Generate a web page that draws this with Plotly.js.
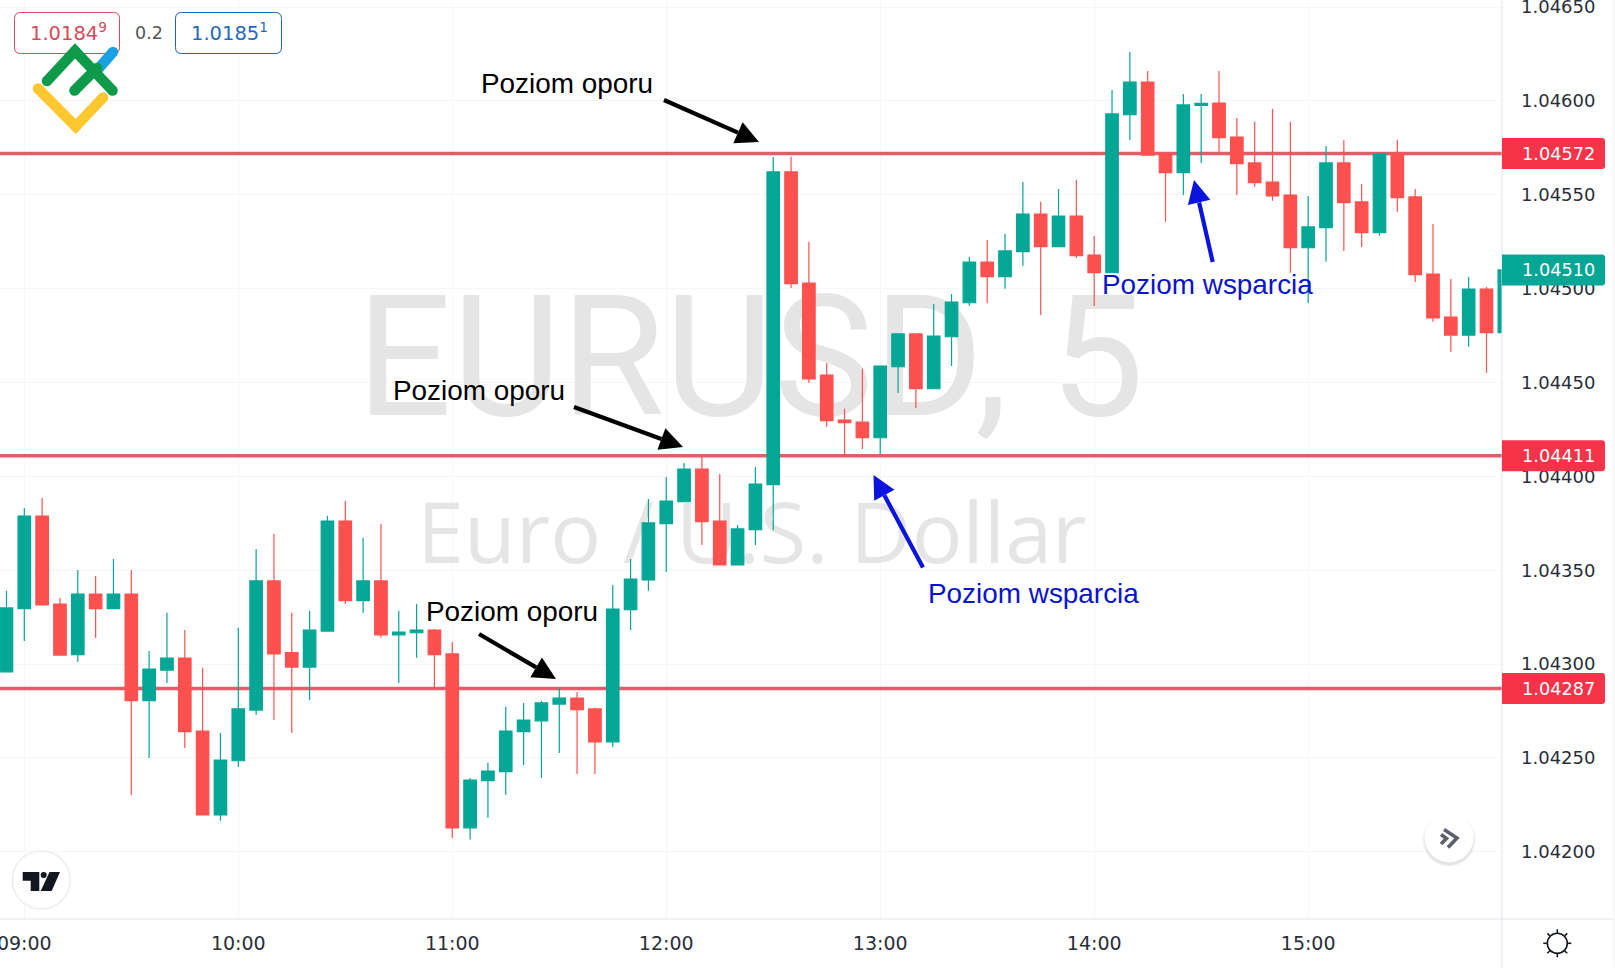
<!DOCTYPE html>
<html><head><meta charset="utf-8">
<script src="https://cdn.plot.ly/plotly-3.0.1.min.js"></script>
<style>html,body{margin:0;padding:0;background:#fff;overflow:hidden}#c{width:1615px;height:971px}</style>
</head><body><div id="c"></div>
<script>
const open = [1.042959,1.043295,1.043789,1.043320,1.043050,1.043373,1.043295,1.043373,1.042805,1.042968,1.043032,1.042643,1.042196,1.042485,1.042755,1.043443,1.043061,1.042984,1.043176,1.043762,1.043338,1.043443,1.043156,1.043167,1.043181,1.043054,1.042128,1.042379,1.042427,1.042640,1.042698,1.042787,1.042819,1.042761,1.042586,1.043290,1.043448,1.043748,1.043865,1.044039,1.043762,1.043528,1.043716,1.043956,1.045622,1.045030,1.044540,1.044300,1.044289,1.044206,1.044584,1.044759,1.044467,1.044744,1.044925,1.045142,1.045064,1.045197,1.045398,1.045224,1.045387,1.045179,1.045085,1.045927,1.046101,1.045718,1.045618,1.045977,1.045989,1.045808,1.045670,1.045568,1.045499,1.045218,1.045325,1.045670,1.045462,1.045298,1.045718,1.045489,1.045078,1.044849,1.044753,1.044998,1.044766];
const high = [1.043391,1.043832,1.043885,1.043352,1.043501,1.043469,1.043560,1.043501,1.043070,1.043274,1.043181,1.042981,1.042633,1.043194,1.043613,1.043693,1.043274,1.043284,1.043790,1.043869,1.043673,1.043746,1.043284,1.043320,1.043187,1.043118,1.042393,1.042474,1.042773,1.042793,1.042805,1.042872,1.042851,1.042768,1.043421,1.043560,1.043879,1.043997,1.044071,1.044105,1.044013,1.043741,1.044050,1.045702,1.045703,1.045250,1.044604,1.044361,1.044574,1.044588,1.044759,1.044759,1.044918,1.044972,1.045169,1.045259,1.045291,1.045568,1.045463,1.045531,1.045579,1.045281,1.046059,1.046261,1.046160,1.045718,1.046037,1.046037,1.046160,1.045909,1.045890,1.045957,1.045890,1.045494,1.045760,1.045792,1.045558,1.045718,1.045792,1.045531,1.045345,1.045052,1.045062,1.045009,1.045100];
const low = [1.042959,1.043123,1.043315,1.043048,1.043011,1.043139,1.043295,1.042302,1.042500,1.042899,1.042553,1.042196,1.042165,1.042452,1.042729,1.042702,1.042633,1.042809,1.043176,1.043320,1.043272,1.043140,1.042899,1.043034,1.042872,1.042073,1.042065,1.042181,1.042302,1.042462,1.042395,1.042526,1.042414,1.042414,1.042558,1.043181,1.043391,1.043490,1.043865,1.043634,1.043528,1.043528,1.043634,1.043714,1.045004,1.044498,1.044265,1.044119,1.044146,1.044119,1.044444,1.044364,1.044467,1.044588,1.044909,1.044924,1.045000,1.045122,1.044860,1.045224,1.045164,1.044908,1.045085,1.045792,1.045712,1.045357,1.045499,1.045670,1.045730,1.045499,1.045543,1.045469,1.045085,1.044924,1.045144,1.045201,1.045222,1.045282,1.045410,1.045036,1.044824,1.044664,1.044691,1.044552,1.044766];
const close = [1.043299,1.043789,1.043315,1.043048,1.043373,1.043295,1.043373,1.042805,1.042974,1.043032,1.042640,1.042196,1.042489,1.042761,1.043443,1.043054,1.042984,1.043181,1.043762,1.043338,1.043443,1.043155,1.043171,1.043181,1.043050,1.042128,1.042382,1.042430,1.042643,1.042702,1.042793,1.042819,1.042757,1.042586,1.043293,1.043453,1.043752,1.043869,1.044039,1.043759,1.043528,1.043720,1.043959,1.045622,1.045027,1.044519,1.044297,1.044286,1.044206,1.044588,1.044759,1.044467,1.044748,1.044929,1.045142,1.045064,1.045201,1.045398,1.045224,1.045387,1.045176,1.045085,1.045931,1.046101,1.045712,1.045618,1.045979,1.045988,1.045804,1.045666,1.045565,1.045495,1.045218,1.045329,1.045670,1.045458,1.045298,1.045718,1.045485,1.045075,1.044845,1.044753,1.044998,1.044766,1.045100];
const levels = [1.04572, 1.04411, 1.04287];
const lastPrice = 1.04510;
const sellPrice = "1.0184", sellPip = "9", spread = "0.2", buyPrice = "1.0185", buyPip = "1";
const watermarkMain = "EURUSD, 5", watermarkSub = "Euro / U.S. Dollar";
const resistanceText = "Poziom oporu", supportText = "Poziom wsparcia";

const DAY = "2023-01-10 ";
const pad = n => String(n).padStart(2, "0");
const times = open.map((_, i) => { const m = 8 * 60 + 55 + i * 5; return DAY + pad(Math.floor(m / 60)) + ":" + pad(m % 60); });
const xRange = [DAY + "08:53:11", DAY + "15:54:21"];
const yRange = [1.041642, 1.046538];

const W = 1615, H = 971, PW = 1502, PH = 919;
const px = x => x / PW, py = y => 1 - y / PH;
const priceY = p => (yRange[1] - p) / (yRange[1] - yRange[0]) * PH;
const GREEN = "#04a696", RED = "#fd514f", LABEL_RED = "#f7334a", LINE_RED = "#e35c6a";
const shapes = [], annotations = [];

function poly(points, o) {
  const path = points.map((p, i) => (i ? "L" : "M") + px(p[0]) + "," + py(p[1])).join(" ") + (o.close ? " Z" : "");
  shapes.push({ type: "path", xref: "paper", yref: "paper", path, layer: "above",
    fillcolor: o.fill || "rgba(0,0,0,0)", line: { color: o.stroke || "rgba(0,0,0,0)", width: o.width || 0 } });
}
function circle(cx, cy, r, o) {
  shapes.push({ type: "circle", xref: "paper", yref: "paper", layer: "above",
    x0: px(cx - r), x1: px(cx + r), y0: py(cy + r), y1: py(cy - r),
    fillcolor: o.fill || "rgba(0,0,0,0)", opacity: o.opacity === undefined ? 1 : o.opacity,
    line: { color: o.stroke || "rgba(0,0,0,0)", width: o.width || 0 } });
}
function capsule(points, width, color) {
  poly(points, { stroke: color, width });
  points.forEach((p, i) => { circle(p[0], p[1], width / 2, { fill: color }); });
}
function rounded(x0, y0, x1, y1, rl, rr, o) {
  const X = px, Y = py;
  const path = `M${X(x0 + rl)},${Y(y0)} L${X(x1 - rr)},${Y(y0)} Q${X(x1)},${Y(y0)} ${X(x1)},${Y(y0 + rr)} L${X(x1)},${Y(y1 - rr)} Q${X(x1)},${Y(y1)} ${X(x1 - rr)},${Y(y1)} L${X(x0 + rl)},${Y(y1)} Q${X(x0)},${Y(y1)} ${X(x0)},${Y(y1 - rl)} L${X(x0)},${Y(y0 + rl)} Q${X(x0)},${Y(y0)} ${X(x0 + rl)},${Y(y0)} Z`;
  shapes.push({ type: "path", xref: "paper", yref: "paper", path, layer: "above", fillcolor: o.fill, line: { color: o.stroke || "rgba(0,0,0,0)", width: o.width || 0 } });
}
function label(text, x, y, size, color, o) {
  o = o || {};
  annotations.push({ text, xref: "paper", yref: "paper", x: px(x), y: py(y), xanchor: o.anchor || "left", yanchor: "middle",
    showarrow: false, font: { family: o.family || "DejaVu Sans", size, color }, borderpad: 0 });
}
function arrow(tail, tip, color) {
  const dx = tip[0] - tail[0], dy = tip[1] - tail[1], len = Math.hypot(dx, dy), ux = dx / len, uy = dy / len;
  const headLen = 23, headHalf = 11.5;
  const bx = tip[0] - ux * headLen, by = tip[1] - uy * headLen;
  poly([tail, [bx, by]], { stroke: color, width: 4.2 });
  poly([tip, [bx - uy * headHalf, by + ux * headHalf], [bx + uy * headHalf, by - ux * headHalf]], { fill: color, close: true });
}

// axis frame
poly([[PW, 0], [PW, 967]], { stroke: "#e0e3eb", width: 1 });
poly([[0, PH], [1614, PH]], { stroke: "#e0e3eb", width: 1 });
poly([[1614, 0], [1614, 967]], { stroke: "#eeeff3", width: 1 });

// price labels
function priceTag(p, color) {
  const c = priceY(p);
  rounded(PW, c - 15.5, 1605, c + 15.5, 0, 3, { fill: color });
  label(p.toFixed(5), 1521, c + 0.5, 17.7, "#ffffff");
}
levels.forEach(p => priceTag(p, LABEL_RED));
priceTag(lastPrice, GREEN);

// bid / ask widget
rounded(14.5, 12.5, 119.5, 53.5, 6, 6, { fill: "#ffffff", stroke: "#d94a5e", width: 1 });
rounded(175.5, 12.5, 281.5, 53.5, 6, 6, { fill: "#ffffff", stroke: "#1f64b0", width: 1 });
label(sellPrice + "<sup>" + sellPip + "</sup>", 28.5, 32.5, 19.5, "#d9485c");
label(spread, 133.5, 33, 17.5, "#555555");
label(buyPrice + "<sup>" + buyPip + "</sup>", 189.5, 32.5, 19.5, "#1f6ac0");

// broker logo
capsule([[38, 88.5], [75.7, 126.5], [103, 97.5]], 10.5, "#fcc72f");
capsule([[99, 68], [113, 52]], 10.5, "#1ba1e2");
capsule([[47, 81], [75, 51], [112.5, 90.5]], 10.5, "#0f9a4a");
capsule([[74.5, 90.5], [97, 68]], 10.5, "#0f9a4a");

// TradingView badge
circle(41.3, 880, 29, { fill: "#ffffff", stroke: "#eceded", width: 1.5 });
const tv = "#131722";
poly([[22.7, 872], [39.3, 872], [39.3, 891], [30.7, 891], [30.7, 880.7], [22.7, 880.7]], { fill: tv, close: true });
circle(43.7, 875, 3, { fill: tv });
poly([[49.5, 872], [60, 872], [51.7, 891], [40.7, 891]], { fill: tv, close: true });

// scroll button
[[27, .025], [26, .035], [25, .05]].forEach(s => circle(1449, 840, s[0], { fill: "#000000", opacity: s[1] }));
circle(1449, 837.7, 24.5, { fill: "#ffffff" });
poly([[1441, 834.5], [1446.5, 838.5], [1441, 844]], { stroke: "#5d606b", width: 3.6 });
poly([[1444, 829.5], [1457, 838], [1448, 847.5]], { stroke: "#5d606b", width: 3.6 });

// theme icon
circle(1557.3, 943.3, 10, { stroke: "#131722", width: 1.6 });
[0, 45, 90, 135, 180, 225, 270, 315].forEach(a => {
  const r = a * Math.PI / 180, cx = 1557.3, cy = 943.3;
  poly([[cx + 10.5 * Math.cos(r), cy + 10.5 * Math.sin(r)], [cx + 14 * Math.cos(r), cy + 14 * Math.sin(r)]], { stroke: "#131722", width: 1.6 });
});

// callouts
arrow([664, 100], [759, 142], "#000000");
arrow([574, 407], [683, 447], "#000000");
arrow([479, 634], [556, 679], "#000000");
arrow([923, 567.5], [873.5, 475], "#0a14dc");
arrow([1212.7, 262], [1194, 180], "#0a14dc");
const CALL = { family: "Liberation Sans" };
label(resistanceText, 480, 83.5, 27.9, "#000000", CALL);
label(resistanceText, 391.5, 391, 27.9, "#000000", CALL);
label(resistanceText, 424.5, 611.5, 27.9, "#000000", CALL);
label(supportText, 927, 593, 27.9, "#0a14c8", CALL);
label(supportText, 1100.5, 284, 27.9, "#0a14c8", CALL);

const traces = [
  { type: "scatter", mode: "text", x: [DAY + "12:23:35"], y: [1.044551], text: [watermarkMain], textposition: "middle center",
    textfont: { family: "Roboto", size: 168, color: "#e5e5e5" }, xaxis: "x", yaxis: "y", hoverinfo: "skip", cliponaxis: false },
  { type: "scatter", mode: "text", x: [DAY + "12:24"], y: [1.04365], text: [watermarkSub], textposition: "middle center",
    textfont: { family: "Open Sans", size: 84.5, color: "#e5e5e5" }, xaxis: "x", yaxis: "y", hoverinfo: "skip", cliponaxis: false }
];
levels.forEach(p => traces.push({ type: "scatter", mode: "lines", x: xRange, y: [p, p], line: { color: LINE_RED, width: 3.6 }, xaxis: "x", yaxis: "y", hoverinfo: "skip" }));
traces.push({ type: "candlestick", x: times, open, high, low, close, xaxis: "x2", yaxis: "y2", whiskerwidth: 0,
  increasing: { line: { color: GREEN, width: 1.2 }, fillcolor: GREEN },
  decreasing: { line: { color: RED, width: 1.2 }, fillcolor: RED } });

const layout = {
  width: W, height: H, showlegend: false, paper_bgcolor: "#ffffff", plot_bgcolor: "#ffffff",
  margin: { l: 0, r: W - PW, t: 0, b: H - PH, pad: 0 }, boxgap: 0.3, boxgroupgap: 0, hovermode: false,
  xaxis: { type: "date", range: xRange, dtick: 3600000, tick0: DAY + "09:00", tickformat: "%H:%M", showgrid: true, gridcolor: "#f5f6f8", gridwidth: 1,
    zeroline: false, showline: false, ticks: "", ticklabelstandoff: 11, ticklabeloverflow: "allow", tickfont: { family: "DejaVu Sans", size: 19, color: "#2a2e39" }, rangeslider: { visible: false }, fixedrange: true },
  yaxis: { range: yRange, side: "right", dtick: 0.0005, tick0: 1.04, tickformat: ".5f", showgrid: true, gridcolor: "#f5f6f8", gridwidth: 1,
    zeroline: false, showline: false, ticks: "", ticklabelstandoff: 18, ticklabeloverflow: "allow", tickfont: { family: "DejaVu Sans", size: 18, color: "#2a2e39" }, fixedrange: true },
  xaxis2: { type: "date", range: xRange, overlaying: "x", anchor: "y2", visible: false, rangeslider: { visible: false }, fixedrange: true },
  yaxis2: { range: yRange, overlaying: "y", anchor: "x2", side: "right", visible: false, fixedrange: true },
  shapes, annotations
};
Plotly.newPlot("c", traces, layout, { displayModeBar: false, staticPlot: true });
</script></body></html>
